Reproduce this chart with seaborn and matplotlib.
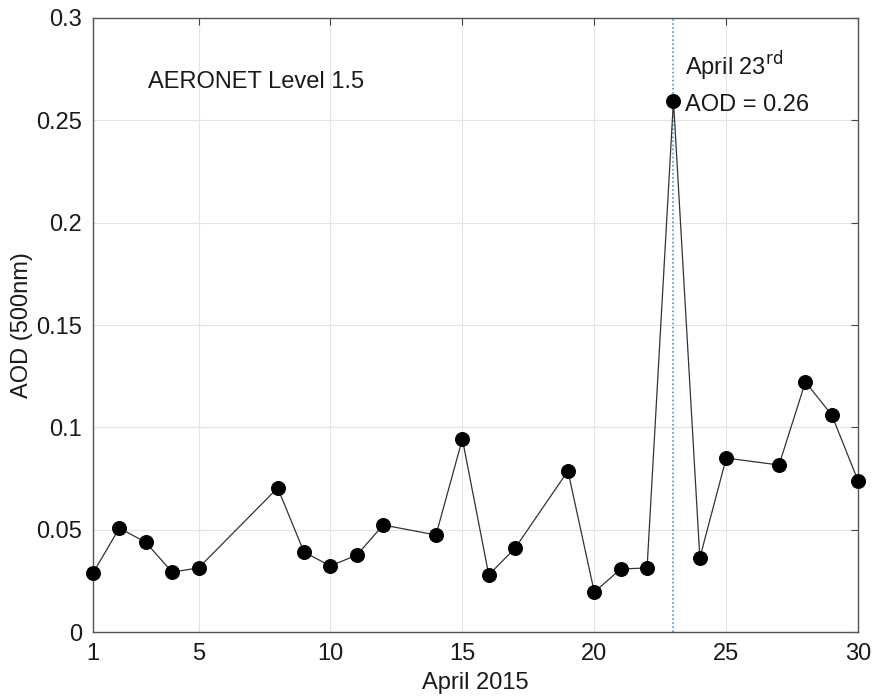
import matplotlib
matplotlib.use('Agg')
import matplotlib.pyplot as plt
import seaborn as sns
import pandas as pd

# Daily AOD at 500nm, April 2015 (AERONET Level 1.5)
days = [1, 2, 3, 4, 5, 8, 9, 10, 11, 12, 14, 15, 16, 17, 19, 20, 21, 22, 23, 24, 25, 27, 28, 29, 30]
aod = [0.0288, 0.0508, 0.0438, 0.0293, 0.0313, 0.0704, 0.0390, 0.0323, 0.0376, 0.0523,
       0.0474, 0.0943, 0.0279, 0.0410, 0.0787, 0.0195, 0.0308, 0.0313, 0.2596, 0.0362,
       0.0850, 0.0816, 0.1222, 0.1060, 0.0738]
x_ticks = [1, 5, 10, 15, 20, 25, 30]
y_ticks = [0, 0.05, 0.1, 0.15, 0.2, 0.25, 0.3]
y_tick_labels = ['0', '0.05', '0.1', '0.15', '0.2', '0.25', '0.3']
peak_day = 23
peak_aod = 0.26

sns.set_style('white')
plt.rcParams['font.family'] = ['Liberation Sans', 'DejaVu Sans']
plt.rcParams['text.color'] = '#1a1a1a'
plt.rcParams['axes.labelcolor'] = '#1a1a1a'
plt.rcParams['xtick.labelcolor'] = '#1a1a1a'
plt.rcParams['ytick.labelcolor'] = '#1a1a1a'

df = pd.DataFrame({'day': days, 'aod': aod})

fig = plt.figure(figsize=(8.73, 7.0), dpi=100)
ax = fig.add_axes([0.1065, 0.0971, 0.8765, 0.8772])

ax.axvline(peak_day, color='#2b8cbe', linestyle=':', linewidth=1.1, zorder=1)
sns.lineplot(data=df, x='day', y='aod', ax=ax, color='#333333', linewidth=0.9,
             marker='o', markersize=10, markerfacecolor='black',
             markeredgecolor='black', zorder=3, clip_on=False)

ax.set_xlim(1, 30)
ax.set_ylim(0, 0.3)
ax.set_xticks(x_ticks)
ax.set_xticklabels([str(t) for t in x_ticks])
ax.set_yticks(y_ticks)
ax.set_yticklabels(y_tick_labels)
ax.grid(True, color='#e3e3e3', linewidth=0.8)
ax.set_axisbelow(True)
ax.tick_params(axis='both', direction='in', length=5, labelsize=17, color='#444444',
               top=True, right=True)
ax.tick_params(axis='x', pad=8)
ax.tick_params(axis='y', pad=8)
for s in ax.spines.values():
    s.set_color('#555555')
    s.set_linewidth(1.0)

ax.set_xlabel('April 2015', fontsize=17, labelpad=5)
ax.set_ylabel('AOD (500nm)', fontsize=17, labelpad=2)

ax.text(3.1, 0.266, 'AERONET Level 1.5', fontsize=17)
ax.text(23.45, 0.272, 'April 23$^{\\mathrm{rd}}$', fontsize=17)
ax.text(23.45, 0.2545, f'AOD = {peak_aod}', fontsize=17)

fig.savefig('out.png', dpi=100)
